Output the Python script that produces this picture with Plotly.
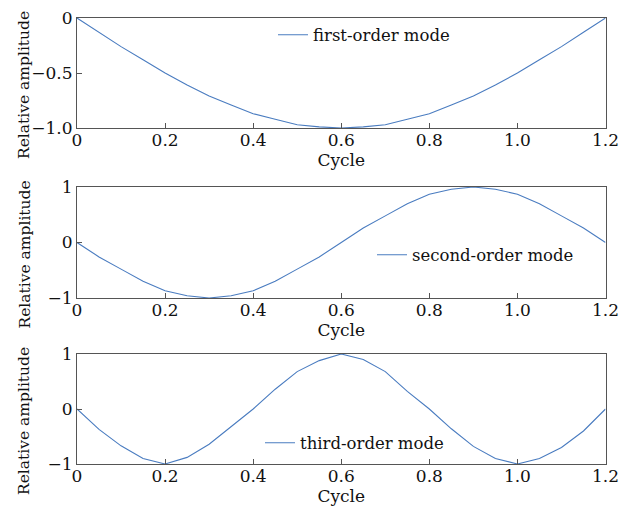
import plotly.graph_objects as go
from plotly.subplots import make_subplots

# Sample positions along the cycle (step 0.05)
cycle = [0.0, 0.05, 0.1, 0.15, 0.2, 0.25, 0.3, 0.35, 0.4, 0.45, 0.5, 0.55, 0.6,
         0.65, 0.7, 0.75, 0.8, 0.85, 0.9, 0.95, 1.0, 1.05, 1.1, 1.15, 1.2]

# Relative amplitude of each mode shape
first_mode = [0.0, -0.13, -0.26, -0.38, -0.5, -0.61, -0.71, -0.79, -0.87, -0.92, -0.97, -0.99, -1.0,
              -0.99, -0.97, -0.92, -0.87, -0.79, -0.71, -0.61, -0.5, -0.38, -0.26, -0.13, 0.0]
second_mode = [0.0, -0.26, -0.48, -0.7, -0.87, -0.96, -1.0, -0.96, -0.87, -0.7, -0.48, -0.26, 0.0,
               0.26, 0.48, 0.7, 0.87, 0.96, 1.0, 0.96, 0.87, 0.7, 0.48, 0.26, 0.0]
third_mode = [0.0, -0.37, -0.67, -0.9, -1.0, -0.88, -0.64, -0.32, 0.0, 0.36, 0.68, 0.88, 1.0,
              0.9, 0.68, 0.32, 0.0, -0.36, -0.68, -0.9, -1.0, -0.9, -0.7, -0.4, 0.0]

mode_names = ["first-order mode", "second-order mode", "third-order mode"]

x_ticks = [0, 0.2, 0.4, 0.6, 0.8, 1.0, 1.2]
x_tick_text = ["0", "0.2", "0.4", "0.6", "0.8", "1.0", "1.2"]
y_ticks_first = [-1.0, -0.5, 0]
y_tick_text_first = ["\u22121.0", "\u22120.5", "0"]
y_ticks_other = [-1, 0, 1]
y_tick_text_other = ["\u22121", "0", "1"]

W, H = 629, 514
LINE = "#4a7cc0"
AXIS = "#555555"
INK = "#111111"
SERIF = "DejaVu Serif"

# panel boxes in pixels (top, bottom)
x_left, x_right = 77, 605.5
panels = [(18, 128), (187, 298), (354, 464)]

fig = make_subplots(rows=3, cols=1)

series = [first_mode, second_mode, third_mode]
legends = ["legend", "legend2", "legend3"]
for i, (ys, name, lg) in enumerate(zip(series, mode_names, legends)):
    fig.add_trace(
        go.Scatter(x=cycle, y=ys, mode="lines", name=name, showlegend=True,
                   line=dict(color=LINE, width=1.1), legend=lg),
        row=i + 1, col=1,
    )

xdom = [x_left / W, x_right / W]
for i, (top, bottom) in enumerate(panels):
    ax = "" if i == 0 else str(i + 1)
    ydom = [1 - bottom / H, 1 - top / H]
    fig.layout["xaxis" + ax].update(
        domain=xdom, range=[0, 1.2], tickvals=x_ticks, ticktext=x_tick_text,
        ticks="inside", ticklen=5, tickcolor=AXIS, showline=True, linecolor=AXIS,
        linewidth=1, mirror=True, showgrid=False, zeroline=False, automargin=False,
        ticklabelstandoff=-3,
        tickfont=dict(family=SERIF, size=17, color=INK),
        title=dict(text="Cycle", standoff=0,
                   font=dict(family=SERIF, size=17, color=INK)),
    )
    if i == 0:
        yr, yt, ytt = [-1.0, 0.0], y_ticks_first, y_tick_text_first
    else:
        yr, yt, ytt = [-1, 1], y_ticks_other, y_tick_text_other
    fig.layout["yaxis" + ax].update(
        domain=ydom, range=yr, tickvals=yt, ticktext=ytt,
        ticks="inside", ticklen=5, tickcolor=AXIS, showline=True, linecolor=AXIS,
        linewidth=1, mirror=True, showgrid=False, zeroline=False, automargin=False,
        tickfont=dict(family=SERIF, size=17, color=INK),
    )
    # vertical axis caption
    center = (top + bottom) / 2 + 12
    fig.add_annotation(
        text="Relative amplitude", textangle=-90, x=24 / W, y=1 - center / H,
        xref="paper", yref="paper", showarrow=False, xanchor="center", yanchor="middle",
        font=dict(family=SERIF, size=15.5, color=INK),
    )

legend_style = dict(bgcolor="rgba(0,0,0,0)", borderwidth=0, xanchor="left", yanchor="middle",
                    font=dict(family=SERIF, size=16.5, color=INK))
fig.update_layout(
    width=W, height=H, margin=dict(l=0, r=0, t=0, b=0, autoexpand=False),
    paper_bgcolor="white", plot_bgcolor="white", showlegend=True,
    legend=dict(x=273 / W, y=1 - 35 / H, **legend_style),
    legend2=dict(x=372 / W, y=1 - 255 / H, **legend_style),
    legend3=dict(x=260 / W, y=1 - 443 / H, **legend_style),
)

fig.write_html("out.html")
